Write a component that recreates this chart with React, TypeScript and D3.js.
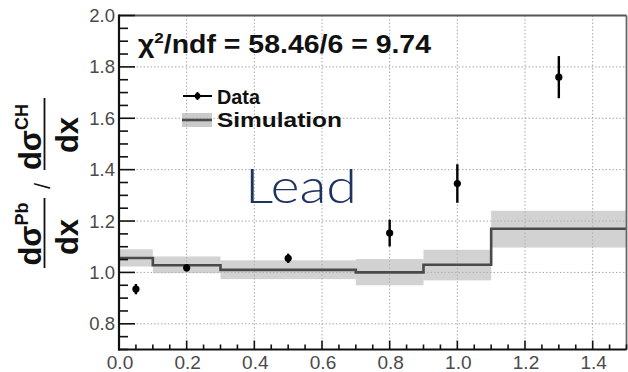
import React from "react";
import * as d3 from "d3";

// Simulation: binned ratio with uncertainty band
const binEdges = [0, 0.1, 0.3, 0.7, 0.9, 1.1, 1.5];
const simValues = [1.056, 1.028, 1.01, 1.0, 1.03, 1.17];
const simLow = [1.023, 0.997, 0.974, 0.95, 0.969, 1.097];
const simHigh = [1.09, 1.062, 1.047, 1.052, 1.088, 1.24];

// Measured ratio points
const dataX = [0.05, 0.2, 0.5, 0.8, 1.0, 1.3];
const dataY = [0.935, 1.018, 1.055, 1.153, 1.346, 1.76];
const dataErr = [0.02, 0.014, 0.018, 0.052, 0.075, 0.082];

const xTicks = [0, 0.2, 0.4, 0.6, 0.8, 1.0, 1.2, 1.4];
const yTicks = [0.8, 1.0, 1.2, 1.4, 1.6, 1.8, 2.0];

const W = 628;
const H = 372;
const left = 119;
const right = 626.5;
const top = 15.5;
const bottom = 349.5;

export default function App() {
  const x = d3.scaleLinear().domain([0, 1.5]).range([left, right]);
  const y = d3.scaleLinear().domain([0.7, 2.0]).range([bottom, top]);

  const xMinor = d3.range(0, 1.5001, 0.05).map((v) => +v.toFixed(2));
  const yMinor = d3.range(0.7, 2.0001, 0.05).map((v) => +v.toFixed(2));

  const stepPts: [number, number][] = simValues.map((v, i) => [binEdges[i], v]);
  stepPts.push([binEdges[binEdges.length - 1], simValues[simValues.length - 1]]);
  const stepLine = d3
    .line<[number, number]>()
    .x((d) => x(d[0]))
    .y((d) => y(d[1]))
    .curve(d3.curveStepAfter);

  const labelColor = "#4a4a4a";
  const font = "'Liberation Sans', Arial, Helvetica, sans-serif";

  return (
    <svg
      width={W}
      height={H}
      style={{ position: "absolute", left: 0, top: 0, background: "#fff" }}
      fontFamily={font}
    >
      {/* grid */}
      {xTicks
        .filter((t) => t > 0)
        .map((t) => (
          <line
            key={"gx" + t}
            x1={x(t)}
            x2={x(t)}
            y1={top}
            y2={bottom}
            stroke="#a8a8a8"
            strokeWidth={1}
            strokeDasharray="1.5 2"
          />
        ))}
      {yTicks
        .filter((t) => t < 2.0)
        .map((t) => (
          <line
            key={"gy" + t}
            x1={left}
            x2={right}
            y1={y(t)}
            y2={y(t)}
            stroke="#a8a8a8"
            strokeWidth={1}
            strokeDasharray="1.5 2"
          />
        ))}

      {/* simulation band */}
      {simValues.map((_, i) => (
        <rect
          key={"band" + i}
          x={x(binEdges[i])}
          width={x(binEdges[i + 1]) - x(binEdges[i])}
          y={y(simHigh[i])}
          height={y(simLow[i]) - y(simHigh[i])}
          fill="#b4b4b4"
          fillOpacity={0.6}
        />
      ))}
      <path d={stepLine(stepPts) || ""} fill="none" stroke="#4a4a4a" strokeWidth={2.6} />

      {/* data points */}
      {dataX.map((d, i) => (
        <g key={"pt" + i}>
          <line
            x1={x(d)}
            x2={x(d)}
            y1={y(dataY[i] + dataErr[i])}
            y2={y(dataY[i] - dataErr[i])}
            stroke="#000"
            strokeWidth={2.4}
          />
          <circle cx={x(d)} cy={y(dataY[i])} r={3.6} fill="#000" />
        </g>
      ))}

      {/* frame */}
      <line x1={left} x2={right} y1={top} y2={top} stroke="#555" strokeWidth={2.2} />
      <line x1={right} x2={right} y1={top} y2={bottom} stroke="#666" strokeWidth={1.8} />
      <line x1={left} x2={left} y1={top - 1} y2={bottom + 1} stroke="#111" strokeWidth={2.2} />
      <line x1={left - 1} x2={right} y1={bottom} y2={bottom} stroke="#111" strokeWidth={2.2} />

      {/* ticks */}
      {xMinor.map((t) => {
        const major = Math.abs(t / 0.2 - Math.round(t / 0.2)) < 1e-6;
        return (
          <line
            key={"xt" + t}
            x1={x(t)}
            x2={x(t)}
            y1={bottom}
            y2={bottom - (major ? 9 : 5)}
            stroke="#111"
            strokeWidth={1.6}
          />
        );
      })}
      {yMinor.map((t) => {
        const major = Math.abs(t / 0.2 - Math.round(t / 0.2)) < 1e-6;
        return (
          <line
            key={"yt" + t}
            x1={left}
            x2={left + (major ? 16 : 9)}
            y1={y(t)}
            y2={y(t)}
            stroke="#111"
            strokeWidth={1.6}
          />
        );
      })}

      {/* tick labels */}
      {xTicks.map((t) => (
        <text
          key={"xl" + t}
          x={x(t) + 1}
          y={369}
          textAnchor="middle"
          fontSize={19}
          fill={labelColor}
        >
          {t.toFixed(1)}
        </text>
      ))}
      {yTicks.map((t) => (
        <text
          key={"yl" + t}
          x={115}
          y={y(t) + 6.5}
          textAnchor="end"
          fontSize={18.5}
          fill={labelColor}
        >
          {t.toFixed(1)}
        </text>
      ))}

      {/* y-axis title: ratio of differential cross sections */}
      <g transform="rotate(-90)" fontWeight="bold" fill="#111">
        <text x={-234} y={41} textAnchor="middle" fontSize={31}>
          dσ<tspan fontSize={18} dy={-13}>Pb</tspan>
        </text>
        <line x1={-268} x2={-198} y1={44.5} y2={44.5} stroke="#111" strokeWidth={1.8} />
        <text x={-237} y={78} textAnchor="middle" fontSize={31}>
          dx
        </text>
        <text x={-186} y={50} textAnchor="middle" fontSize={22} fontWeight="normal">
          /
        </text>
        <text x={-137} y={41} textAnchor="middle" fontSize={31}>
          dσ<tspan fontSize={18} dy={-13}>CH</tspan>
        </text>
        <line x1={-170} x2={-98} y1={44.5} y2={44.5} stroke="#111" strokeWidth={1.8} />
        <text x={-135} y={78} textAnchor="middle" fontSize={31}>
          dx
        </text>
      </g>

      {/* fit quality */}
      <text
        x={138}
        y={53}
        fontSize={25}
        fontWeight="bold"
        fill="#111"
        textLength={293}
        lengthAdjust="spacingAndGlyphs"
      >
        χ<tspan fontSize={15} dy={-10}>2</tspan>
        <tspan dy={10}>/ndf = 58.46/6 = 9.74</tspan>
      </text>

      {/* legend */}
      <line x1={183} x2={212} y1={96} y2={96} stroke="#000" strokeWidth={2} />
      <line x1={197.5} x2={197.5} y1={92} y2={100} stroke="#000" strokeWidth={2} />
      <circle cx={197.5} cy={96} r={3} fill="#000" />
      <text
        x={217}
        y={104}
        fontSize={20}
        fontWeight="bold"
        fill="#111"
        textLength={43}
        lengthAdjust="spacingAndGlyphs"
      >
        Data
      </text>
      <rect x={182} y={113} width={30} height={14} fill="#b4b4b4" fillOpacity={0.7} />
      <line x1={182} x2={212} y1={120} y2={120} stroke="#4a4a4a" strokeWidth={2.6} />
      <text
        x={217}
        y={126.5}
        fontSize={20}
        fontWeight="bold"
        fill="#111"
        textLength={125}
        lengthAdjust="spacingAndGlyphs"
      >
        Simulation
      </text>

      {/* target label */}
      <text
        x={245}
        y={203}
        fontSize={48}
        fontFamily="Lato, 'Noto Sans', sans-serif"
        fontWeight={300}
        fill="#1e3360"
        textLength={112}
        lengthAdjust="spacingAndGlyphs"
      >
        Lead
      </text>
    </svg>
  );
}
